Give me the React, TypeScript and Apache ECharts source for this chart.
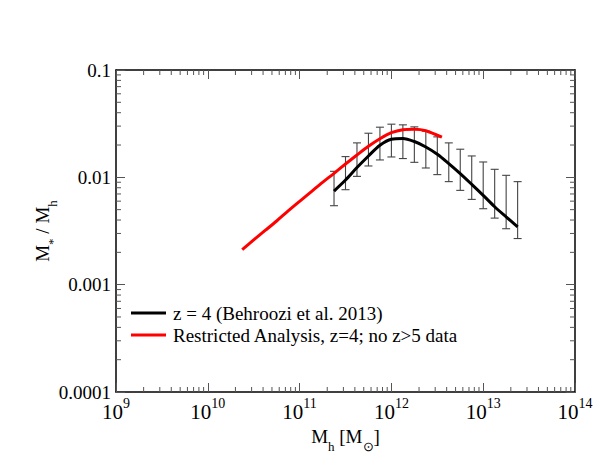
import React, { useEffect, useRef } from 'react';
import * as echarts from 'echarts';

// log10 of halo mass for the Behroozi et al. 2013 curve (z = 4)
const blackLogMh = [11.375, 11.5, 11.625, 11.75, 11.875, 12.0, 12.125, 12.25, 12.375, 12.5, 12.625, 12.75, 12.875, 13.0, 13.125, 13.25, 13.375];
const blackRatio = [0.00745, 0.00944, 0.01233, 0.01582, 0.01991, 0.02265, 0.023, 0.02156, 0.01919, 0.01641, 0.01343, 0.01083, 0.0086, 0.00679, 0.00532, 0.00428, 0.00346];
const blackUpper = [0.01138, 0.0156, 0.02094, 0.02576, 0.02932, 0.03128, 0.03083, 0.02952, 0.02692, 0.02382, 0.02094, 0.01828, 0.01582, 0.0139, 0.01188, 0.01044, 0.00912];
const blackLower = [0.00544, 0.00767, 0.01021, 0.01276, 0.01452, 0.01548, 0.01496, 0.0138, 0.01222, 0.0106, 0.00912, 0.00756, 0.00623, 0.0051, 0.00417, 0.00332, 0.00269];

// Restricted analysis curve
const redLogMh = [10.375, 10.5, 10.625, 10.75, 10.875, 11.0, 11.125, 11.25, 11.375, 11.5, 11.625, 11.75, 11.875, 12.0, 12.125, 12.25, 12.375, 12.55];
const redRatio = [0.00212, 0.00261, 0.0032, 0.00392, 0.00486, 0.00597, 0.00732, 0.00898, 0.0109, 0.01331, 0.01616, 0.01949, 0.02291, 0.02606, 0.0278, 0.02809, 0.0272, 0.02365];

const seriesNames = ['z = 4 (Behroozi et al. 2013)', 'Restricted Analysis, z=4; no z>5 data'];
const xTickExponents = [9, 10, 11, 12, 13, 14];
const yTickLabels = ['0.0001', '0.001', '0.01', '0.1'];
const yTickExponents = [-4, -3, -2, -1];

const FONT = 'Liberation Serif';

export default function App() {
  const ref = useRef<HTMLDivElement>(null);
  useEffect(() => {
    if (!ref.current) return;
    const chart = echarts.init(ref.current, undefined, { renderer: 'svg' });

    const xMin = Math.pow(10, xTickExponents[0]);
    const xMax = Math.pow(10, xTickExponents[xTickExponents.length - 1]);
    const yMin = Math.pow(10, yTickExponents[0]);
    const yMax = Math.pow(10, yTickExponents[yTickExponents.length - 1]);

    const minorX: number[] = [];
    for (let i = 0; i < xTickExponents.length - 1; i++) {
      for (let m = 2; m <= 9; m++) minorX.push(m * Math.pow(10, xTickExponents[i]));
    }
    const minorY: number[] = [];
    for (let i = 0; i < yTickExponents.length - 1; i++) {
      for (let m = 2; m <= 9; m++) minorY.push(m * Math.pow(10, yTickExponents[i]));
    }

    const blackData = blackLogMh.map((l, i) => [Math.pow(10, l), blackRatio[i]]);
    const redData = redLogMh.map((l, i) => [Math.pow(10, l), redRatio[i]]);
    const errData = blackLogMh.map((l, i) => [Math.pow(10, l), blackLower[i], blackUpper[i]]);

    const tickColor = '#555';
    const baseAxis = {
      type: 'log' as const,
      logBase: 10,
      axisLine: { show: true, lineStyle: { color: '#000', width: 1.5 } },
      axisTick: { show: true, inside: true, length: 9, lineStyle: { color: tickColor, width: 1 } },
      splitLine: { show: false },
      minorTick: { show: false },
    };

    const option: any = {
      animation: false,
      backgroundColor: '#fff',
      grid: { left: 116, right: 23, top: 70, bottom: 70, containLabel: false },
      legend: {
        data: seriesNames,
        orient: 'vertical',
        left: 131,
        top: 302,
        padding: 0,
        itemGap: 0,
        itemWidth: 35,
        itemHeight: 3,
        icon: 'rect',
        textStyle: { fontFamily: FONT, fontSize: 19, color: '#000', lineHeight: 22, padding: [0, 0, 0, 2] },
      },
      xAxis: [
        {
          ...baseAxis,
          min: xMin,
          max: xMax,
          splitNumber: 5,
          position: 'bottom',
          name: '{b|M}{sub|h}{b| [M}{sub|\u2299}{b|]}',
          nameLocation: 'middle',
          nameGap: 34,
          nameTextStyle: {
            fontFamily: FONT,
            fontSize: 19,
            rich: {
              b: { fontFamily: FONT, fontSize: 19, color: '#000', lineHeight: 26, verticalAlign: 'top' },
              sub: { fontFamily: FONT, fontSize: 13, color: '#000', lineHeight: 26, verticalAlign: 'bottom' },
            },
          },
          axisLabel: {
            margin: 4,
            fontFamily: FONT,
            fontSize: 21,
            color: '#000',
            formatter: (v: number) => `{b|10}{s|${Math.round(Math.log10(v))}}`,
            rich: {
              b: { fontFamily: FONT, fontSize: 21, color: '#000', lineHeight: 26, verticalAlign: 'bottom' },
              s: { fontFamily: FONT, fontSize: 14, color: '#000', lineHeight: 15, verticalAlign: 'top' },
            },
          },
        },
        {
          ...baseAxis,
          min: xMin,
          max: xMax,
          splitNumber: 5,
          position: 'top',
          axisLabel: { show: false },
        },
      ],
      yAxis: [
        {
          ...baseAxis,
          min: yMin,
          max: yMax,
          splitNumber: 3,
          position: 'left',
          name: '{b|M}{sub|*}{b| / M}{sub|h}',
          nameLocation: 'middle',
          nameRotate: 90,
          nameGap: 57,
          nameMoveOverlap: false,
          nameTextStyle: {
            fontFamily: FONT,
            fontSize: 19,
            rich: {
              b: { fontFamily: FONT, fontSize: 19, color: '#000', lineHeight: 26, verticalAlign: 'top' },
              sub: { fontFamily: FONT, fontSize: 13, color: '#000', lineHeight: 26, verticalAlign: 'bottom' },
            },
          },
          axisLabel: {
            margin: 5,
            fontFamily: FONT,
            fontSize: 19,
            color: '#000',
            formatter: (v: number) => {
              const e = Math.round(Math.log10(v));
              const idx = yTickExponents.indexOf(e);
              return idx >= 0 ? yTickLabels[idx] : '';
            },
          },
        },
        {
          ...baseAxis,
          min: yMin,
          max: yMax,
          splitNumber: 3,
          position: 'right',
          axisLabel: { show: false },
        },
      ],
      series: [
        {
          type: 'custom',
          name: 'minorTicks',
          silent: true,
          xAxisIndex: 0,
          yAxisIndex: 0,
          data: [[xMin, yMin]],
          renderItem: (params: any, api: any) => {
            const cs = params.coordSys;
            const L = 5;
            const children: any[] = [];
            const st = { stroke: tickColor, lineWidth: 1 };
            minorX.forEach((xv) => {
              const p = api.coord([xv, yMin]);
              children.push({ type: 'line', shape: { x1: p[0], y1: cs.y + cs.height, x2: p[0], y2: cs.y + cs.height - L }, style: st });
              children.push({ type: 'line', shape: { x1: p[0], y1: cs.y, x2: p[0], y2: cs.y + L }, style: st });
            });
            minorY.forEach((yv) => {
              const p = api.coord([xMin, yv]);
              children.push({ type: 'line', shape: { x1: cs.x, y1: p[1], x2: cs.x + L, y2: p[1] }, style: st });
              children.push({ type: 'line', shape: { x1: cs.x + cs.width, y1: p[1], x2: cs.x + cs.width - L, y2: p[1] }, style: st });
            });
            return { type: 'group', children };
          },
          z: 1,
        },
        {
          type: 'custom',
          name: 'errorBars',
          silent: true,
          xAxisIndex: 0,
          yAxisIndex: 0,
          data: errData,
          encode: { x: 0, y: [1, 2] },
          renderItem: (params: any, api: any) => {
            const x = api.value(0);
            const lo = api.coord([x, api.value(1)]);
            const hi = api.coord([x, api.value(2)]);
            const hw = 4;
            const st = { stroke: '#444', lineWidth: 1.1 };
            return {
              type: 'group',
              children: [
                { type: 'line', shape: { x1: lo[0], y1: lo[1], x2: hi[0], y2: hi[1] }, style: st },
                { type: 'line', shape: { x1: lo[0] - hw, y1: lo[1], x2: lo[0] + hw, y2: lo[1] }, style: st },
                { type: 'line', shape: { x1: hi[0] - hw, y1: hi[1], x2: hi[0] + hw, y2: hi[1] }, style: st },
              ],
            };
          },
          z: 2,
        },
        {
          type: 'line',
          name: seriesNames[0],
          data: blackData,
          xAxisIndex: 0,
          yAxisIndex: 0,
          symbol: 'none',
          smooth: 0.3,
          lineStyle: { color: '#000', width: 3 },
          itemStyle: { color: '#000' },
          z: 3,
        },
        {
          type: 'line',
          name: seriesNames[1],
          data: redData,
          xAxisIndex: 0,
          yAxisIndex: 0,
          symbol: 'none',
          smooth: 0.3,
          lineStyle: { color: '#ff0000', width: 3 },
          itemStyle: { color: '#ff0000' },
          z: 4,
        },
      ],
    };
    chart.setOption(option);
    return () => chart.dispose();
  }, []);
  return <div ref={ref} style={{ position: 'fixed', left: 0, top: 0, width: 598, height: 462 }} />;
}
